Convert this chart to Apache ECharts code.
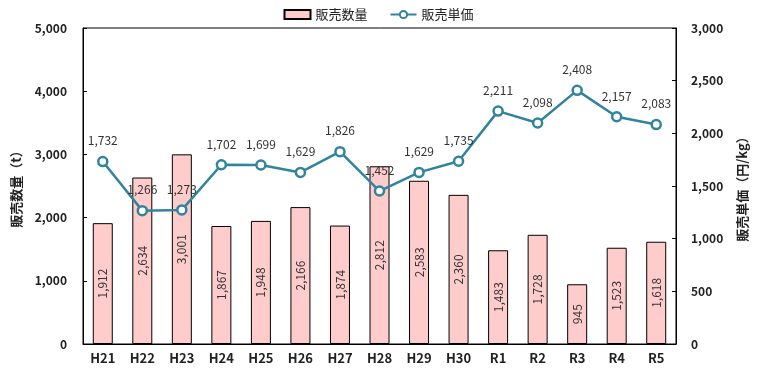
<!DOCTYPE html>
<html><head><meta charset="utf-8">
<script src="https://cdn.jsdelivr.net/npm/echarts@6/dist/echarts.min.js"></script>
<style>html,body{margin:0;padding:0;background:#fff}#c{width:757px;height:378px}</style>
</head><body><div id="c"></div>
<script>
const categories = ['H21','H22','H23','H24','H25','H26','H27','H28','H29','H30','R1','R2','R3','R4','R5'];
const salesVolume = [1912,2634,3001,1867,1948,2166,1874,2812,2583,2360,1483,1728,945,1523,1618];
const unitPrice = [1732,1266,1273,1702,1699,1629,1826,1452,1629,1735,2211,2098,2408,2157,2083];
const leftTicks = {min:0, max:5000, interval:1000};
const rightTicks = {min:0, max:3000, interval:500};

const font = '"Noto Sans CJK JP", "Noto Sans", sans-serif';
const chart = echarts.init(document.getElementById('c'), null, {renderer:'canvas'});
const fmt = v => Number(v).toLocaleString('en-US');
chart.setOption({
  animation:false,
  textStyle:{fontFamily:font},
  legend:{
    top:3, left:'center', itemGap:22, itemWidth:26, itemHeight:9,
    textStyle:{fontFamily:font, fontSize:13, color:'#222'},
    data:[{name:'販売数量', icon:'rect'}, {name:'販売単価'}]
  },
  grid:{left:83, right:80, top:28, bottom:34, show:true, borderColor:'#000', borderWidth:1},
  xAxis:{
    type:'category', data:categories,
    axisLine:{lineStyle:{color:'#000'}},
    axisTick:{inside:true, length:4, lineStyle:{color:'#000'}},
    axisLabel:{fontFamily:font, fontWeight:'bold', fontSize:13, color:'#222', margin:8}
  },
  yAxis:[
    {type:'value', min:leftTicks.min, max:leftTicks.max, interval:leftTicks.interval,
     name:'販売数量（t）', nameLocation:'middle', nameRotate:90, nameGap:60,
     nameTextStyle:{fontFamily:font, fontSize:13, fontWeight:'bold', color:'#222'},
     axisLine:{show:true, lineStyle:{color:'#000'}},
     axisTick:{show:true, inside:true, length:4, lineStyle:{color:'#000'}},
     splitLine:{show:false},
     axisLabel:{fontFamily:font, fontWeight:'bold', fontSize:12, color:'#222', margin:16, formatter:fmt}},
    {type:'value', min:rightTicks.min, max:rightTicks.max, interval:rightTicks.interval, position:'right',
     name:'販売単価（円/kg）', nameLocation:'middle', nameRotate:90, nameGap:60,
     nameTextStyle:{fontFamily:font, fontSize:13, fontWeight:'bold', color:'#222'},
     axisLine:{show:true, lineStyle:{color:'#000'}},
     axisTick:{show:true, inside:true, length:4, lineStyle:{color:'#000'}},
     splitLine:{show:false},
     axisLabel:{fontFamily:font, fontWeight:'bold', fontSize:12, color:'#222', margin:15, formatter:fmt}}
  ],
  series:[
    {name:'販売数量', type:'bar', data:salesVolume, barWidth:20, yAxisIndex:0,
     itemStyle:{color:'#FFCCCC', borderColor:'#000', borderWidth:1},
     label:{show:true, position:'inside', rotate:90, fontFamily:font, fontSize:12, color:'#333',
            formatter:p=>fmt(p.value)}},
    {name:'販売単価', type:'line', data:unitPrice, yAxisIndex:1,
     symbol:'circle', symbolSize:9, showAllSymbol:true,
     lineStyle:{color:'#31849B', width:2.5},
     itemStyle:{color:'#fff', borderColor:'#31849B', borderWidth:2.5},
     label:{show:true, position:'top', distance:9, fontFamily:font, fontSize:12, color:'#333',
            formatter:p=>fmt(p.value)}}
  ]
});
</script></body></html>
